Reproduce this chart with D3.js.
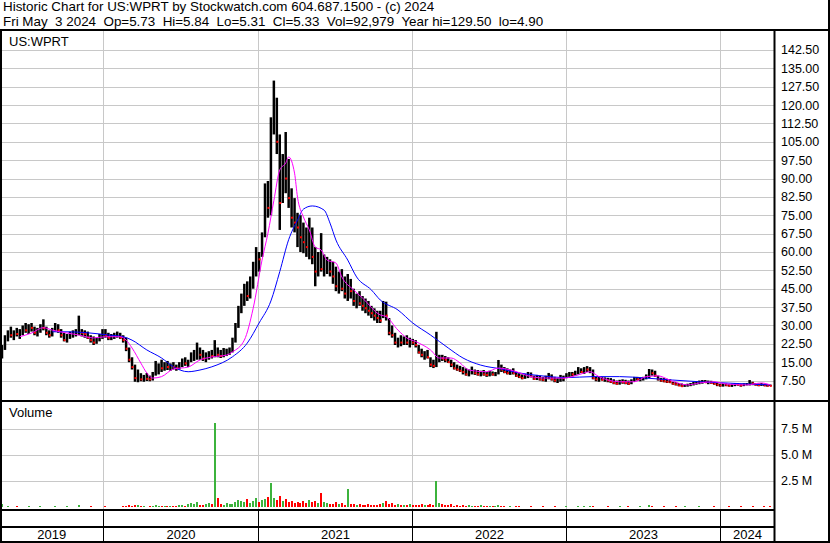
<!DOCTYPE html>
<html>
<head>
<meta charset="utf-8">
<script src="https://cdn.jsdelivr.net/npm/d3@7"></script>
<style>
body { margin: 0; background: #fff; }
svg text { font-family: "Liberation Sans", Arial, sans-serif; white-space: pre; }
</style>
</head>
<body>
<div id="chart"></div>
<script>
// DATA (weekly bars, first week starts 2019-05-06)
var firstWeek = new Date(2019, 4, 6);
var lastDay = new Date(2024, 4, 3);

var lows = [
  16.5,20,23.5,25,24,25.5,24.5,26,27,26.5,
  27.5,26,25.5,27,28,26,25,25.5,27.5,27,
  25,23.5,23,24.5,25,25.5,26,25.5,25,24.5,
  23,22,22.5,23.5,24.5,25,24,24,24.5,25,
  24.5,23,19.5,15,12,7,6.8,7.2,7,7.3,
  7.2,7.5,9.5,10,11,11.5,11.8,11.5,12,11.5,
  12,13,13.5,13,15,15.5,16,16,15.5,15,
  16,16.5,17,17,16.7,17,17.5,18,19,23,
  29,35,38,40,41,45,50,52,58,66,
  74,75,108,100,69,80,84,78,70,68,
  62,60,59.5,58,57,55,46,50,52,50,
  51,50,47,44,43,44,41,40,41,38,
  37,38,36,35,34,33,32,31,31,33,
  32,26,25,22,21,21.5,22,22,21,22,
  21,18.5,17,16,16.5,13,12.6,13,15,15.5,
  15,14.7,13,12,11.5,11,10,9.5,9.2,10,
  9.8,9.5,9.2,9.5,9,9.2,9.5,9.3,10,11,
  10.5,10,9.8,10,9,8.5,8,8.2,8.5,8.8,
  7.8,7.7,7.5,7.2,7,8,7.5,6.8,6.5,7,
  7.2,8.5,9,9.2,9.5,10,10.5,10.2,11,10.5,
  8,7.2,7,7.5,7,6.8,6.5,6,5.8,5.8,
  6.2,6,5.7,6,7,7.5,7.2,7.5,8,8.5,
  9.5,9,7.5,7,6.8,6.5,6.5,5.8,5.5,5.2,
  5,4.9,5,5.2,5.5,5.8,6,6.2,6.5,6,
  6.2,5.8,5.2,5,5,5.2,5,4.9,5.2,5.4,
  5,5.2,5.5,5.5,5.6,5.4,5.2,5.3,5.2,5,
  5.31
];

var highs = [
  22,26,28,29.5,28,29,28.5,30,31,30.5,
  31,29.5,29,30.5,32.5,29.5,28,29,31,30.5,
  28.5,27,26.5,27.5,28,28.5,34,28.5,28,27.5,
  26,25.5,25,26.5,28.5,28.5,27,26.5,27,27.5,
  27,26,25,21,17,14,12,10.5,9.8,10.6,
  9.5,11,15.5,14.5,16,15,15.5,14.5,15,14,
  15,16.5,17,16,19,20,23,21,20,19,
  19.5,20,24,21,20,20.8,20.5,21,25,31,
  38,43,47,48,50,56,62,60,68,88,
  89,115,130,123,108,100,109,98,86,82,
  76,75,72,70,74,70,62,60,67.7,59,
  58,57,56,54,52,53,50,51,49,45,
  43,44,42,41,40,38,37,36,36,40,
  39.7,33,30,27,25,26,25.5,26,25,24.5,
  24,22,20.5,19.5,20,17,16,27.4,18,18,
  17.5,17,16,15,14,13.5,13,12.5,12,13.2,
  12,11.8,11.5,11.8,11,11.5,11.2,11,15.9,14,
  13,12.5,12,12.5,11,10.5,10,10.2,11,10.8,
  9.5,9.8,9.5,9,9.5,10.6,10,9,8.5,9.8,
  9.5,10.5,11,11,11.5,13,12.5,13,13.4,13,
  12,9,9.2,9,8.8,8.6,8.5,8,7.5,7.8,
  8,7.8,7.5,8,9,9,8.8,9,10,12.2,
  12,11.5,9.5,8.6,8.5,8.2,8,7,6.9,6.5,
  6.3,6,6.2,6.5,6.9,7.2,7.5,7.7,7.7,7.5,
  7.4,7,6.5,6.2,6.5,6.3,6,6.2,6.4,6.5,
  6.2,6.4,6.5,7.7,7,6.5,6.3,6.5,6.2,6,
  5.84
];

var closes = [
  20,25,27,26,27.5,26.5,28,29,28,30,
  29,27,28,30,29,27,26,28.5,30,28,
  26,24,25.5,26,27,27.5,28,27,26.5,25,
  24,23,24.5,26,27.5,26,25,25.5,26,26.5,
  25,24,20.5,16,13,8.5,9.5,8,8.4,8.2,
  8,10.5,12,13,12.5,14,13,13.5,13,12.5,
  14,15,14.5,15.5,17,18,18.5,18,16.5,17,
  18,17.5,20,18,17.5,18.5,19,20,24,30,
  36,41,44,42,47,54,58,57,66,85,
  78,110,115,105,80,95,90,82,74,72,
  70,66,64,62,68,58,52,56,53,54,
  55,52,50,46,48,45,43,47,44,40,
  41,39,38,37,36,35,34,33,32,38,
  34,27,26,23,24,23,24.5,23,24,23,
  22,19,18,18.5,17,14,13.5,16,17,16.5,
  16,15,14,12.5,12,11.5,11,10,10.5,12,
  10.5,10,10.5,10,9.8,10.5,10,10.5,13,12,
  11,10.5,11,10.5,9.5,9,8.5,9.5,10,9.2,
  8.2,8.5,8,7.8,9,9.5,8,7.5,7.8,9.2,
  8.5,10,10.5,10,11,12,11,12.5,12,12.8,
  8.5,8,8.5,7.8,8,7.5,7,6.5,6.2,7,
  6.8,6.5,6.2,7.5,8.5,8,8.2,8.8,9.5,11.5,
  10.5,9.5,8,7.5,7.2,7,6.8,6.2,6,5.5,
  5.2,5.5,5.8,6,6.5,6.8,7,7.2,6.8,7,
  6.5,6.2,5.8,5.5,6,5.6,5.4,5.8,6,5.8,
  5.5,6,6.2,6.5,6.3,5.8,5.6,6,5.5,5.4,
  5.33
];

// volume, millions
var volumes = [
  0.3,0.02,0.12,0.02,0.03,0.12,0.02,0.03,0.02,0.12,
  0.02,0.03,0.02,0.11,0.02,0.03,0.02,0.02,0.12,0.02,
  0.03,0.02,0.12,0.02,0.03,0.02,0.2,0.03,0.02,0.02,
  0.11,0.02,0.03,0.02,0.02,0.12,0.02,0.03,0.02,0.02,
  0.03,0.12,0.15,0.2,0.12,0.25,0.18,0.1,0.08,0.06,
  0.1,0.15,0.2,0.12,0.1,0.08,0.15,0.1,0.12,0.08,
  0.2,0.25,0.15,0.3,0.45,0.3,0.5,0.25,0.2,0.35,
  0.4,0.3,8.1,0.9,0.3,0.25,0.4,0.3,0.35,0.5,
  0.7,0.6,0.5,0.8,0.45,0.6,0.9,0.5,0.7,0.8,
  1.0,2.3,0.9,0.7,1.1,0.6,0.8,0.5,0.6,0.4,
  0.5,0.45,0.6,0.4,0.7,0.5,0.6,0.4,1.4,0.5,
  0.4,0.3,0.35,0.5,0.3,0.4,0.25,1.8,0.3,0.35,
  0.25,0.3,0.2,0.25,0.3,0.2,0.25,0.2,0.3,0.4,
  0.6,0.3,0.4,0.25,0.3,0.2,0.25,0.2,0.3,0.2,
  0.25,0.2,0.3,0.2,0.25,0.3,0.2,2.5,0.4,0.3,
  0.25,0.2,0.3,0.15,0.2,0.15,0.25,0.12,0.2,0.15,
  0.12,0.15,0.2,0.1,0.12,0.08,0.1,0.12,0.25,0.1,
  0.08,0.06,0.12,0.05,0.08,0.12,0.05,0.07,0.05,0.12,
  0.04,0.06,0.05,0.12,0.05,0.04,0.06,0.12,0.04,0.05,
  0.05,0.12,0.06,0.05,0.04,0.12,0.05,0.08,0.06,0.12,
  0.15,0.05,0.04,0.06,0.05,0.12,0.05,0.06,0.04,0.12,
  0.04,0.05,0.12,0.04,0.05,0.06,0.12,0.05,0.06,0.2,
  0.1,0.06,0.05,0.04,0.12,0.06,0.04,0.05,0.12,0.06,
  0.04,0.12,0.03,0.04,0.05,0.04,0.12,0.05,0.04,0.05,
  0.04,0.12,0.03,0.04,0.05,0.03,0.12,0.05,0.04,0.03,
  0.12,0.05,0.03,0.04,0.12,0.03,0.05,0.04,0.15,0.05,
  0.12
];

// moving averages (week index, value)
var magWeeks = [6,10,14,17,22,26,31,35,40,42,44,47,49,51,54,58,63,67,71,76,78,82,85,88,90,92,94,96,97,99,100,102,104,106,108,110,113,115,119,122,128,130,134,137,140,145,148,152,155,158,164,168,173,179,184,190,195,199,202,209,214,218,222,226,232,236,241,245,252,257,260];
var magVals = [25.4,26.9,29.1,28.1,26.9,26.1,24.9,25.4,25.4,24,20.8,14.6,10.6,8.5,9.1,12.2,13,15.9,17.1,17.9,19.2,24,37,56.7,67.7,81,93.5,96.3,98.8,92.2,82.4,74.3,69,62,60.8,56.7,55.5,49.8,44.5,41.2,34.3,33.6,28.1,24.9,23.4,20,16.7,16.7,14.7,11.8,11.1,12.6,11.5,9.1,8.5,8.5,9.8,11.1,9.1,7,7,9.1,9.4,7.7,5.7,6.5,7,6.1,5.7,6.5,5.7];
var blueWeeks = [17,22,29,36,41,44,49,54,58,63,67,71,78,83,87,91,94,97,100,102,105,109,111,113,117,120,125,128,134,139,145,151,156,162,169,175,182,191,200,209,218,227,236,245,252,260];
var blueVals = [27.4,27.4,27,26.1,25.4,24,20,16.7,13.1,11.1,11.8,13.1,17.2,22.8,31,40,52,65,73,77.5,78.8,77.1,71.8,64.9,56.7,49.8,44.5,40.4,36.3,31,26.1,20.8,16.7,13.8,12.2,10.6,9.5,8.7,9.1,9.1,8.5,7.7,7,6.5,6.1,5.7];

var priceTicks = [7.5,15,22.5,30,37.5,45,52.5,60,67.5,75,82.5,90,97.5,105,112.5,120,127.5,135,142.5];
var volTicks = [2.5,5,7.5];
var years = [2019,2020,2021,2022,2023,2024];

var headerLine1 = "Historic Chart for US:WPRT by Stockwatch.com 604.687.1500 - (c) 2024";
var headerLine2 = "Fri May  3 2024  Op=5.73  Hi=5.84  Lo=5.31  Cl=5.33  Vol=92,979  Year hi=129.50  lo=4.90";

if (lows.length != highs.length || lows.length != closes.length || lows.length != volumes.length) {
    throw new Error("length mismatch " + lows.length + " " + highs.length + " " + closes.length + " " + volumes.length);
}

// LAYOUT
var WIDTH = 830, HEIGHT = 543;
var AXIS_X = 774.5;
var PRICE_TOP = 31;
var VOL_BOTTOM = 509;
var GRID = "#c8c8c8";

function weekDate(i) { return d3.timeDay.offset(firstWeek, i * 7); }

var bars = lows.map(function(l, i) {
    return { date: weekDate(i), low: l, high: highs[i], close: closes[i], vol: volumes[i],
             down: i > 0 && closes[i] < closes[i-1] };
});

var xScale = d3.scaleTime()
    .domain([firstWeek, lastDay])
    .range([2, 772]);

var yScale = d3.scaleLinear()
    .domain([0, 150])
    .range([398.9, 31.6]);

var vScale = d3.scaleLinear()
    .domain([0, 7.5])
    .range([506.5, 428.5]);

var svg = d3.select("#chart").append("svg")
    .attr("width", WIDTH)
    .attr("height", HEIGHT);

svg.append("rect").attr("width", WIDTH).attr("height", HEIGHT).attr("fill", "#fff");

// header, two lines in one text block
var header = svg.append("text").attr("font-size", 13.4);
header.append("tspan").attr("x", 3).attr("y", 11).text(headerLine1);
header.append("tspan").attr("x", 3).attr("y", 26).text(headerLine2);

var yearStarts = years.slice(1).map(function(y) { return new Date(y, 0, 1); });
var yearEdges = [0].concat(yearStarts.map(function(d) { return Math.round(xScale(d)) + 0.5; })).concat([AXIS_X]);

// grid, price panel
svg.append("g").selectAll("line")
    .data(priceTicks)
    .enter().append("line")
    .attr("x1", 2).attr("x2", AXIS_X)
    .attr("y1", function(d) { return Math.round(yScale(d)) + 0.5; })
    .attr("y2", function(d) { return Math.round(yScale(d)) + 0.5; })
    .attr("stroke", GRID);

svg.append("g").selectAll("line")
    .data(yearStarts)
    .enter().append("line")
    .attr("x1", function(d) { return Math.round(xScale(d)) + 0.5; })
    .attr("x2", function(d) { return Math.round(xScale(d)) + 0.5; })
    .attr("y1", PRICE_TOP).attr("y2", VOL_BOTTOM)
    .attr("stroke", GRID);

// grid, volume panel
svg.append("g").selectAll("line")
    .data(volTicks)
    .enter().append("line")
    .attr("x1", 2).attr("x2", AXIS_X)
    .attr("y1", function(d) { return Math.round(vScale(d)) + 0.5; })
    .attr("y2", function(d) { return Math.round(vScale(d)) + 0.5; })
    .attr("stroke", GRID);

// price bars
svg.append("g").selectAll("line")
    .data(bars)
    .enter().append("line")
    .attr("x1", function(d) { return xScale(d.date); })
    .attr("x2", function(d) { return xScale(d.date); })
    .attr("y1", function(d) { return yScale(d.high); })
    .attr("y2", function(d) { return Math.max(yScale(d.low), yScale(d.high) + 1.5); })
    .attr("stroke", "#000")
    .attr("stroke-width", 2.5);

svg.append("g").selectAll("rect")
    .data(bars.filter(function(d) { return d.down; }))
    .enter().append("rect")
    .attr("x", function(d) { return xScale(d.date) - 0.5; })
    .attr("y", function(d) { return yScale(d.close) - 1; })
    .attr("width", 2).attr("height", 2)
    .attr("fill", "#ff0000");

// moving averages
var maLine = d3.line()
    .x(function(d) { return xScale(weekDate(d[0])); })
    .y(function(d) { return yScale(d[1]); })
    .curve(d3.curveMonotoneX);

svg.append("path")
    .attr("d", maLine(blueWeeks.map(function(w, i) { return [w, blueVals[i]]; })))
    .attr("fill", "none").attr("stroke", "#0000ff").attr("stroke-width", 1);

svg.append("path")
    .attr("d", maLine(magWeeks.map(function(w, i) { return [w, magVals[i]]; })))
    .attr("fill", "none").attr("stroke", "#ff00ff").attr("stroke-width", 1);

// volume bars (whole pixels, so the tiny ones drop out like in the original)
function volHeight(d) { return Math.floor(vScale(0) - vScale(d.vol) + 0.25); }

svg.append("g").attr("shape-rendering", "crispEdges").selectAll("rect")
    .data(bars)
    .enter().append("rect")
    .attr("x", function(d) { return Math.round(xScale(d.date) - 1); })
    .attr("width", 2)
    .attr("y", function(d) { return 507 - volHeight(d); })
    .attr("height", volHeight)
    .attr("fill", function(d) { return d.down ? "#ff0000" : "#3cb33c"; });

// axis labels
svg.append("g").selectAll("text")
    .data(priceTicks)
    .enter().append("text")
    .attr("x", 781)
    .attr("y", function(d) { return yScale(d); })
    .attr("dy", "0.36em")
    .attr("font-size", 12.5)
    .attr("fill", "#000")
    .text(function(d) { return d.toFixed(2); });

svg.append("g").selectAll("text")
    .data(volTicks)
    .enter().append("text")
    .attr("x", 781)
    .attr("y", function(d) { return vScale(d); })
    .attr("dy", "0.36em")
    .attr("font-size", 12.5)
    .text(function(d) { return d.toFixed(1) + " M"; });

svg.append("text").attr("x", 9).attr("y", 46).attr("font-size", 13).text("US:WPRT");
svg.append("text").attr("x", 9).attr("y", 417).attr("font-size", 13).text("Volume");

// year labels in bottom strip
svg.append("g").selectAll("text")
    .data(years)
    .enter().append("text")
    .attr("x", function(d, i) { return (yearEdges[i] + yearEdges[i+1]) / 2; })
    .attr("y", 539)
    .attr("text-anchor", "middle")
    .attr("font-size", 13)
    .text(function(d) { return d; });

svg.append("g").selectAll("line")
    .data(yearStarts)
    .enter().append("line")
    .attr("x1", function(d) { return Math.round(xScale(d)) + 0.5; })
    .attr("x2", function(d) { return Math.round(xScale(d)) + 0.5; })
    .attr("y1", VOL_BOTTOM).attr("y2", 541)
    .attr("stroke", "#000");

// frame lines
function hline(x1, x2, y, w) {
    svg.append("line").attr("x1", x1).attr("x2", x2).attr("y1", y).attr("y2", y)
        .attr("stroke", "#000").attr("stroke-width", w);
}
function vline(x, y1, y2, w) {
    svg.append("line").attr("x1", x).attr("x2", x).attr("y1", y1).attr("y2", y2)
        .attr("stroke", "#000").attr("stroke-width", w);
}
hline(0, WIDTH, 30, 2);
hline(0, WIDTH, 401, 2);
hline(0, AXIS_X, 510, 2);
hline(0, AXIS_X, 527, 2);
hline(0, WIDTH, 542, 2);
vline(1, 30, HEIGHT, 2);
vline(829, 0, HEIGHT, 2);
vline(AXIS_X, 30, HEIGHT, 2);
</script>
</body>
</html>
